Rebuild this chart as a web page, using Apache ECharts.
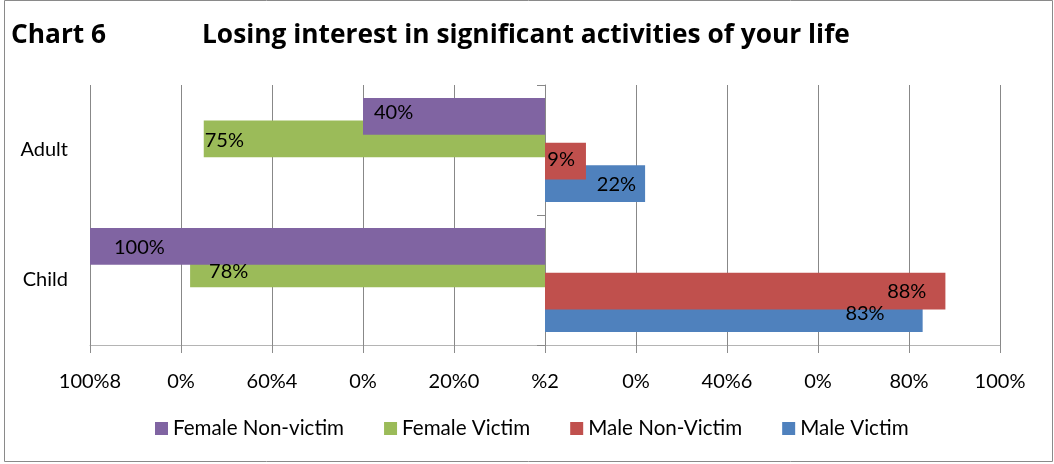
<!DOCTYPE html>
<html><head><meta charset="utf-8">
<script src="https://cdn.jsdelivr.net/npm/echarts@6/dist/echarts.min.js"></script>
<style>html,body{margin:0;padding:0;background:#fff}#c{width:1054px;height:464px}</style>
</head><body><div id="c"></div>
<script>
// ---- data ----
const categories = ['Adult', 'Child'];
const seriesNames = ['Female Non-victim', 'Female Victim', 'Male Non-Victim', 'Male Victim'];
const femaleNonVictim = [40, 100];
const femaleVictim = [75, 78];
const maleNonVictim = [9, 88];
const maleVictim = [22, 83];
const tickLabels = ['100%8', '0%', '60%4', '0%', '20%0', '%2', '0%', '40%6', '0%', '80%', '100%'];

// ---- styling (label nudges, not data) ----
const labelShift = {
  'Female Non-victim': [[11, -4], [24, 1]],
  'Female Victim': [[1, 2], [19, 3]],
  'Male Non-Victim': [[-11, -2], [-19, 0]],
  'Male Victim': [[-9, 1], [-38, 0]]
};
const FONT = 'Lato';
const TITLE_FONT = 'Open Sans';
const colors = ['#8064A2', '#9BBB59', '#C0504D', '#4F81BD'];
const valueSets = [femaleNonVictim, femaleVictim, maleNonVictim, maleVictim];
const signs = [-1, -1, 1, 1];
const zs = [3, 2, 3, 2];
const positions = ['insideLeft', 'insideLeft', 'insideRight', 'insideRight'];

// bars (no labels) on yAxis 0
function barSeries(idx) {
  return {
    name: seriesNames[idx], type: 'bar', z: zs[idx], yAxisIndex: 0,
    barGap: '-39%', barCategoryGap: '20%',
    itemStyle: { color: colors[idx] },
    label: { show: false },
    data: valueSets[idx].map(v => signs[idx] * v)
  };
}
// label carriers (same layout, transparent) on yAxis 1 so labels sit above every bar
function labelSeries(idx) {
  const name = seriesNames[idx];
  return {
    name: name + ' label', type: 'bar', z: 6, yAxisIndex: 1,
    barGap: '-39%', barCategoryGap: '20%', silent: true,
    itemStyle: { color: 'rgba(0,0,0,0)' },
    label: {
      show: true, position: positions[idx], distance: 0, color: '#000',
      fontFamily: FONT, fontSize: 20,
      formatter: p => Math.abs(p.value) + '%'
    },
    data: valueSets[idx].map((v, i) => ({ value: signs[idx] * v, label: { offset: labelShift[name][i] } }))
  };
}

const chart = echarts.init(document.getElementById('c'), null, { renderer: 'canvas' });
chart.setOption({
  animation: false,
  backgroundColor: '#fff',
  title: [
    { text: 'Chart 6', left: 11, top: 23, padding: 0,
      textStyle: { fontFamily: TITLE_FONT, fontWeight: 'bold', fontSize: 26.3, color: '#000' } },
    { text: 'Losing interest in significant activities of your life', left: 202, top: 23, padding: 0,
      textStyle: { fontFamily: TITLE_FONT, fontWeight: 'bold', fontSize: 26.3, color: '#000' } }
  ],
  graphic: [{
    type: 'rect', shape: { x: 4.5, y: 0.5, width: 1048, height: 461 },
    style: { fill: 'none', stroke: '#8a8a8a', lineWidth: 1 }, silent: true
  }],
  legend: {
    data: seriesNames, left: 155, top: 418, padding: 0,
    itemWidth: 13, itemHeight: 13, itemGap: 40, icon: 'rect',
    textStyle: { fontFamily: FONT, fontSize: 20.6, color: '#000' }
  },
  grid: { left: 90, right: 54, top: 85, bottom: 119, containLabel: false },
  xAxis: {
    type: 'value', min: -100, max: 100, interval: 20,
    axisLine: { show: true, lineStyle: { color: '#b4b4b4', width: 1 } },
    axisTick: { show: true, length: 8, lineStyle: { color: '#8c8c8c' } },
    splitLine: { show: true, lineStyle: { color: '#888', width: 1 } },
    axisLabel: {
      margin: 27, fontFamily: FONT, fontSize: 20, color: '#000',
      formatter: v => tickLabels[Math.round((v + 100) / 20)]
    }
  },
  yAxis: [
    {
      type: 'category', data: categories, inverse: true, position: 'left',
      axisLine: { show: false, onZero: false }, axisTick: { show: false },
      axisLabel: { margin: 22, fontFamily: FONT, fontSize: 20, color: '#000' }
    },
    {
      type: 'category', data: categories, inverse: true, position: 'left',
      axisLine: { show: true, onZero: true, lineStyle: { color: '#888' } },
      axisTick: { show: true, length: 8, lineStyle: { color: '#888' } },
      axisLabel: { show: false }, splitLine: { show: false }
    }
  ],
  series: [0, 1, 2, 3].map(barSeries).concat([0, 1, 2, 3].map(labelSeries))
});
</script>
</body></html>
